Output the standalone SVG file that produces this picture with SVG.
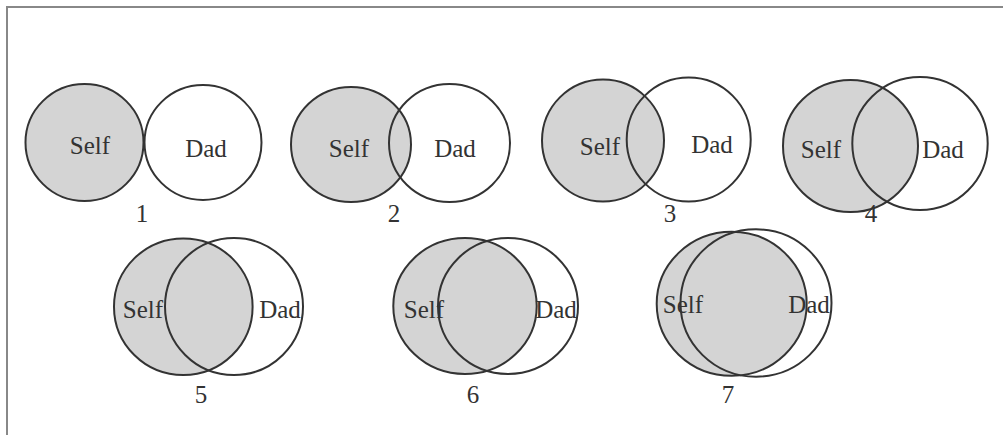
<svg xmlns="http://www.w3.org/2000/svg" width="1003" height="435" viewBox="0 0 1003 435">
<style>
.self{fill:#d4d4d4;stroke:#333;stroke-width:2}
.dad{fill:none;stroke:#333;stroke-width:2}
text{font-family:"Liberation Serif","Times New Roman",serif;font-size:25px;fill:#333;text-anchor:middle}
</style>
<rect width="1003" height="435" fill="#fff"/>
<path d="M7,435 V7 H1003" fill="none" stroke="#888" stroke-width="2"/>
<g id="d1">
<ellipse class="self" cx="84.5" cy="142.5" rx="59" ry="58.5"/>
<ellipse class="dad" cx="203" cy="142.5" rx="58.5" ry="57.5"/>
<text x="90" y="154">Self</text><text x="206" y="157">Dad</text><text x="142" y="222">1</text>
</g>
<g id="d2">
<ellipse class="self" cx="351" cy="144.5" rx="60" ry="57.5"/>
<ellipse class="dad" cx="449.5" cy="143" rx="60.5" ry="59"/>
<text x="349" y="157">Self</text><text x="455" y="157">Dad</text><text x="394" y="222">2</text>
</g>
<g id="d3">
<ellipse class="self" cx="603" cy="140.5" rx="61" ry="61"/>
<ellipse class="dad" cx="688.7" cy="139.5" rx="62" ry="62"/>
<text x="600" y="155">Self</text><text x="712" y="153">Dad</text><text x="670" y="222">3</text>
</g>
<g id="d4">
<ellipse class="self" cx="850.5" cy="146" rx="67.5" ry="66"/>
<ellipse class="dad" cx="920" cy="143.5" rx="67.7" ry="66.5"/>
<text x="821" y="158">Self</text><text x="943" y="158">Dad</text><text x="871" y="222">4</text>
</g>
<g id="d5">
<ellipse class="self" cx="183.3" cy="306.7" rx="69.3" ry="68.3"/>
<ellipse class="dad" cx="234" cy="306.5" rx="69" ry="68.5"/>
<text x="143" y="318">Self</text><text x="280" y="318">Dad</text><text x="201" y="403">5</text>
</g>
<g id="d6">
<ellipse class="self" cx="465" cy="306" rx="71.7" ry="68"/>
<ellipse class="dad" cx="508" cy="306" rx="70" ry="68"/>
<text x="424" y="318">Self</text><text x="556" y="318">Dad</text><text x="473" y="403">6</text>
</g>
<g id="d7">
<ellipse class="self" cx="731.7" cy="303.8" rx="75" ry="72"/>
<ellipse class="dad" cx="756" cy="303" rx="75.5" ry="73.7"/>
<text x="683" y="313">Self</text><text x="809" y="313">Dad</text><text x="728" y="403">7</text>
</g>
</svg>
